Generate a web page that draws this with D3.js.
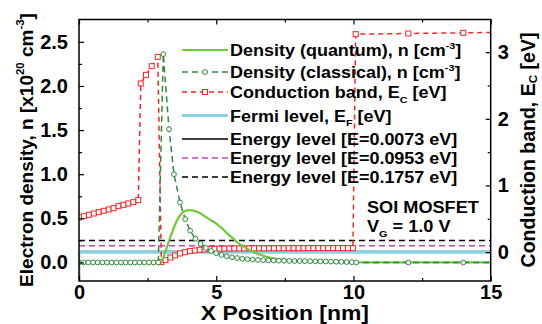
<!DOCTYPE html>
<html>
<head>
<meta charset="utf-8">
<script src="https://cdn.jsdelivr.net/npm/d3@7/dist/d3.min.js"></script>
<style>
  body { margin: 0; background: #fff; }
  svg { display: block; font-family: "Liberation Sans", Arial, sans-serif; font-weight: bold; }
</style>
</head>
<body>
<svg width="542" height="324"></svg>
<script>
// ---- data ----
// classical density, n [1e20 cm^-3]
const classX = [0, 0.17, 0.34, 0.51, 0.68, 0.85, 1.02, 1.19, 1.36, 1.53, 1.70, 1.87, 2.04, 2.21, 2.38, 2.55, 2.72, 2.89,
  3.07, 3.28, 3.46, 3.68, 3.87, 4.05, 4.24, 4.43, 4.62, 4.81, 5.0, 5.19, 5.38, 5.57, 5.76, 5.95, 6.14, 6.33, 6.52, 6.71,
  6.9, 7.09, 7.28, 7.47, 7.66, 7.85, 8.04, 8.23, 8.42, 8.61, 8.8, 8.99, 9.18, 9.37, 9.56, 9.75, 9.94, 10.1, 12.0, 14.0, 16.0];
const classN = [0, 0, 0, 0, 0, 0, 0, 0, 0, 0, 0, 0, 0, 0, 0, 0, 0, 0,
  2.36, 1.51, 1.00, 0.68, 0.49, 0.36, 0.27, 0.21, 0.165, 0.13, 0.105, 0.085, 0.07, 0.058, 0.05, 0.042, 0.037, 0.033, 0.029, 0.026,
  0.024, 0.022, 0.021, 0.019, 0.018, 0.017, 0.016, 0.015, 0.014, 0.013, 0.012, 0.011, 0.01, 0.009, 0.007, 0.005, 0.003, 0, 0, 0, 0];

// quantum density, n [1e20 cm^-3]
const quantX = [0, 3.0, 3.1, 3.2, 3.31, 3.44, 3.56, 3.7, 3.85, 4.02, 4.2, 4.4, 4.6, 4.8, 5.0, 5.2, 5.4, 5.62, 5.8, 6.0,
  6.23, 6.5, 6.84, 7.26, 7.7, 8.2, 9.0, 10.0, 15.0];
const quantN = [0, 0, 0.08, 0.17, 0.27, 0.38, 0.47, 0.54, 0.58, 0.593, 0.585, 0.56, 0.52, 0.48, 0.44, 0.39, 0.33, 0.27, 0.22, 0.18,
  0.14, 0.10, 0.064, 0.035, 0.02, 0.012, 0.006, 0.002, 0];

// conduction band, Ec [eV]
const ecX = [0, 0.18, 0.36, 0.54, 0.72, 0.9, 1.08, 1.26, 1.44, 1.62, 1.8, 1.98, 2.16, 2.25, 2.44, 2.65, 2.87,
  3.0, 3.15, 3.33, 3.5, 3.68, 3.86, 4.04, 4.22, 4.4, 4.58, 4.76, 4.94, 5.12, 5.3, 5.48, 5.66, 5.84, 6.02, 6.2, 6.38,
  6.56, 6.74, 6.92, 7.1, 7.28, 7.46, 7.64, 7.82, 8.0, 8.18, 8.36, 8.54, 8.72, 8.9, 9.08, 9.26, 9.44, 9.62, 9.8, 9.98,
  10.08, 12.0, 14.0, 16.0];
const ecE = [0.52, 0.54, 0.56, 0.58, 0.60, 0.62, 0.64, 0.66, 0.69, 0.71, 0.73, 0.75, 0.78, 2.53, 2.66, 2.79, 2.93,
  -0.15, -0.12, -0.08, -0.05, -0.02, 0.0, 0.015, 0.025, 0.035, 0.04, 0.045, 0.05, 0.052, 0.053, 0.054, 0.055, 0.055, 0.056, 0.056, 0.057,
  0.057, 0.057, 0.058, 0.058, 0.058, 0.058, 0.059, 0.059, 0.059, 0.059, 0.06, 0.06, 0.06, 0.06, 0.06, 0.06, 0.06, 0.06, 0.06, 0.06,
  3.27, 3.28, 3.29, 3.30];

// Fermi level [eV]
const fermiX = [0, 0, 15];
const fermiE = [-1, 0, 0];

// bound energy levels [eV]
const levelE = [0.0073, 0.0953, 0.1757];

const xTicks = [0, 5, 10, 15], xMinor = [2.5, 7.5, 12.5];
const nTicks = [0, 0.5, 1.0, 1.5, 2.0, 2.5], nMinor = [0.25, 0.75, 1.25, 1.75, 2.25];
const eTicks = [0, 1, 2, 3], eMinor = [0.5, 1.5, 2.5];

// ---- layout ----
const L = 79, R = 490.7, T = 19.5, B = 281;
const svg = d3.select("svg");

const x = d3.scaleLinear().domain([0, 15]).range([L, R]);
const yN = d3.scaleLinear().domain([-0.21, 2.753]).range([B, T]);
const yE = d3.scaleLinear().domain([-0.433, 3.49]).range([B, T]);

svg.append("clipPath").attr("id", "clip")
  .append("rect").attr("x", L).attr("y", T).attr("width", R - L).attr("height", B - T);

const plot = svg.append("g").attr("clip-path", "url(#clip)");

const red = "#f22", dkGreen = "#2d8a3c", ltGreen = "#6ccb36", cyan = "#86d3e3", magenta = "#c445c4";

// energy levels
const levelStyle = [
  {stroke: "#000", dash: null},
  {stroke: magenta, dash: "6,4"},
  {stroke: "#000", dash: "6,4"}
];
levelE.forEach((e, i) => {
  plot.append("line")
    .attr("x1", x(0)).attr("x2", x(15))
    .attr("y1", yE(e)).attr("y2", yE(e))
    .attr("stroke", levelStyle[i].stroke)
    .attr("stroke-width", 1.6)
    .attr("stroke-dasharray", levelStyle[i].dash);
});

// fermi level
const fermiLine = d3.line().x(d => x(d[0])).y(d => yE(d[1]));
plot.append("path")
  .datum(d3.zip(fermiX, fermiE))
  .attr("d", fermiLine)
  .attr("fill", "none").attr("stroke", cyan).attr("stroke-width", 3);

// conduction band
const ecData = d3.zip(ecX, ecE);
plot.append("path")
  .datum(ecData)
  .attr("d", d3.line().x(d => x(d[0])).y(d => yE(d[1])))
  .attr("fill", "none").attr("stroke", red).attr("stroke-width", 1.5)
  .attr("stroke-dasharray", "5,4");
plot.selectAll(".sq").data(ecData).enter().append("rect")
  .attr("x", d => x(d[0]) - 2.5).attr("y", d => yE(d[1]) - 2.5)
  .attr("width", 5).attr("height", 5)
  .attr("fill", "#fff").attr("stroke", red).attr("stroke-width", 1);

// quantum density
plot.append("path")
  .datum(d3.zip(quantX, quantN))
  .attr("d", d3.line().x(d => x(d[0])).y(d => yN(d[1])).curve(d3.curveMonotoneX))
  .attr("fill", "none").attr("stroke", ltGreen).attr("stroke-width", 2.2);

// classical density
const classData = d3.zip(classX, classN);
plot.append("path")
  .datum(classData)
  .attr("d", d3.line().x(d => x(d[0])).y(d => yN(d[1])))
  .attr("fill", "none").attr("stroke", dkGreen).attr("stroke-width", 1.5)
  .attr("stroke-dasharray", "6,4");
plot.selectAll(".ci").data(classData).enter().append("circle")
  .attr("cx", d => x(d[0])).attr("cy", d => yN(d[1]))
  .attr("r", 2.4)
  .attr("fill", "#fff").attr("stroke", dkGreen).attr("stroke-width", 1);

// ---- axes ----
function styleAxis(g) {
  g.select(".domain").remove();
  g.selectAll("line").attr("stroke", "#000").attr("stroke-width", 1.2);
  g.selectAll("text").attr("font-size", "20px").attr("font-weight", "bold")
    .attr("font-family", '"Liberation Sans", Arial, sans-serif').attr("fill", "#000");
}

svg.append("g").attr("transform", `translate(0,${B})`)
  .call(d3.axisBottom(x).tickValues(xTicks).tickSize(-5).tickPadding(4).tickFormat(d3.format("d")))
  .call(styleAxis);
svg.append("g").attr("transform", `translate(0,${B})`)
  .call(d3.axisBottom(x).tickValues(xMinor).tickSize(-3).tickFormat(""))
  .call(styleAxis);
svg.append("g").attr("transform", `translate(0,${T})`)
  .call(d3.axisTop(x).tickValues(xTicks).tickSize(-5).tickFormat(""))
  .call(styleAxis);
svg.append("g").attr("transform", `translate(0,${T})`)
  .call(d3.axisTop(x).tickValues(xMinor).tickSize(-3).tickFormat(""))
  .call(styleAxis);

svg.append("g").attr("transform", `translate(${L},0)`)
  .call(d3.axisLeft(yN).tickValues(nTicks).tickSize(-5).tickPadding(11).tickFormat(d3.format(".1f")))
  .call(styleAxis);
svg.append("g").attr("transform", `translate(${L},0)`)
  .call(d3.axisLeft(yN).tickValues(nMinor).tickSize(-3).tickFormat(""))
  .call(styleAxis);

svg.append("g").attr("transform", `translate(${R},0)`)
  .call(d3.axisRight(yE).tickValues(eTicks).tickSize(-5).tickPadding(7).tickFormat(d3.format("d")))
  .call(styleAxis);
svg.append("g").attr("transform", `translate(${R},0)`)
  .call(d3.axisRight(yE).tickValues(eMinor).tickSize(-3).tickFormat(""))
  .call(styleAxis);

svg.append("rect")
  .attr("x", L).attr("y", T).attr("width", R - L).attr("height", B - T)
  .attr("fill", "none").attr("stroke", "#000").attr("stroke-width", 1.5);

// rich text helper: parts = [[text, kind]] with kind "", "sup" or "sub"
function rich(t, parts, size, subShift) {
  let shift = 0;
  parts.forEach(([s, k]) => {
    const target = k === "sup" ? -size * 0.45 : k === "sub" ? size * (subShift || 0.3) : 0;
    t.append("tspan")
      .attr("dy", target - shift)
      .attr("font-size", k ? size * 0.6 : size)
      .text(s);
    shift = target;
  });
}

// axis titles
const xt = svg.append("text").attr("text-anchor", "middle")
  .attr("transform", `translate(${(L + R) / 2},320) scale(1.12,1)`);
rich(xt, [["X Position [nm]", ""]], 20.5);

const lt = svg.append("text").attr("text-anchor", "middle")
  .attr("transform", "translate(33,150) rotate(-90)");
rich(lt, [["Electron density, n [x10", ""], ["20", "sup"], [" cm", ""], ["-3", "sup"], ["]", ""]], 19);

const rt = svg.append("text").attr("text-anchor", "middle")
  .attr("transform", "translate(535,150) rotate(-90)");
rich(rt, [["Conduction band, E", ""], ["C", "sub"], [" [eV]", ""]], 19.5, 0.12);

// legend
const legY = [50, 72, 92, 115.5, 139, 158, 177];
const legend = [
  {parts: [["Density (quantum), n [cm", ""], ["-3", "sup"], ["]", ""]], stroke: ltGreen, w: 2.2},
  {parts: [["Density (classical), n [cm", ""], ["-3", "sup"], ["]", ""]], stroke: dkGreen, dash: "6,4", mark: "circle"},
  {parts: [["Conduction band, E", ""], ["C", "sub"], [" [eV]", ""]], stroke: red, dash: "5,4", mark: "square"},
  {parts: [["Fermi level, E", ""], ["F", "sub"], [" [eV]", ""]], stroke: cyan, w: 3},
  {parts: [["Energy level [E=0.0073 eV]", ""]], stroke: "#000"},
  {parts: [["Energy level [E=0.0953 eV]", ""]], stroke: magenta, dash: "6,4"},
  {parts: [["Energy level [E=0.1757 eV]", ""]], stroke: "#000", dash: "6,4"}
];
const lx0 = 182, lx1 = 228;
legend.forEach((d, i) => {
  const y = legY[i];
  svg.append("line").attr("x1", lx0).attr("x2", lx1).attr("y1", y).attr("y2", y)
    .attr("stroke", d.stroke).attr("stroke-width", d.w || 1.5)
    .attr("stroke-dasharray", d.dash || null);
  const cx = (lx0 + lx1) / 2;
  if (d.mark === "circle") {
    svg.append("circle").attr("cx", cx).attr("cy", y).attr("r", 2.4)
      .attr("fill", "#fff").attr("stroke", d.stroke);
  } else if (d.mark === "square") {
    svg.append("rect").attr("x", cx - 2.5).attr("y", y - 2.5).attr("width", 5).attr("height", 5)
      .attr("fill", "#fff").attr("stroke", d.stroke);
  }
  const t = svg.append("text")
    .attr("transform", `translate(230,${y + 6}) scale(1.09,1)`);
  rich(t, d.parts, 16.5);
});

// annotation
const a1 = svg.append("text").attr("transform", "translate(367,213) scale(1.1,1)");
rich(a1, [["SOI MOSFET", ""]], 16.5);
const a2 = svg.append("text").attr("transform", "translate(367,232) scale(1.1,1)");
rich(a2, [["V", ""], ["G", "sub"], [" = 1.0 V", ""]], 16.5);
</script>
</body>
</html>
